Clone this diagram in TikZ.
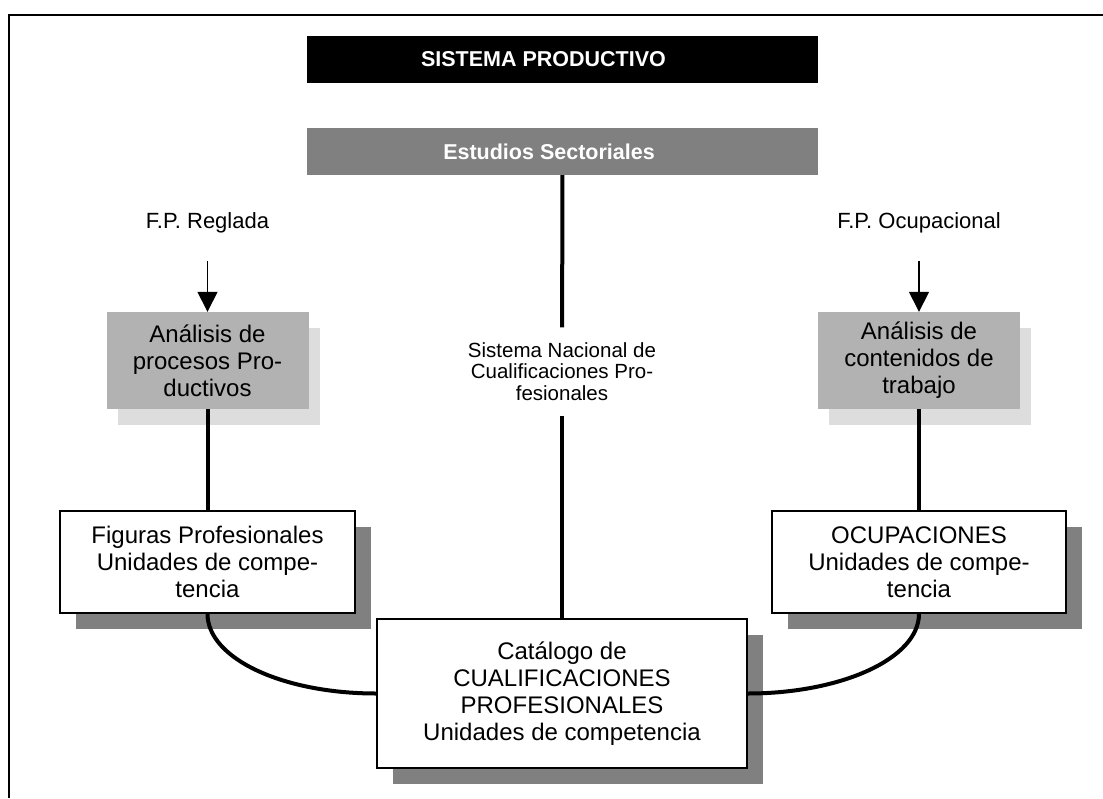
\documentclass[tikz,border=0pt]{standalone}
\usepackage{fontspec}
\setmainfont{Liberation Sans}
\usetikzlibrary{arrows.meta,shadows}
\definecolor{headgray}{HTML}{808080}
\definecolor{procgray}{HTML}{B2B2B2}
\definecolor{lightshade}{HTML}{DDDDDD}
\tikzset{
	headbox/.style={minimum width=511pt, minimum height=47pt, inner sep=0pt, text=white, font=\fontsize{21.5}{24}\selectfont\bfseries},
	analbox/.style={fill=procgray, minimum width=202pt, minimum height=97pt, inner sep=0pt, align=center, font=\fontsize{24}{27}\selectfont, drop shadow={shadow xshift=11pt, shadow yshift=-16pt, fill=lightshade, opacity=1}},
	unitbox/.style={draw, line width=1.5pt, fill=white, inner sep=0pt, align=center, font=\fontsize{24}{27}\selectfont, drop shadow={shadow xshift=16pt, shadow yshift=-16pt, fill=headgray, opacity=1}},
	fptext/.style={anchor=base, font=\fontsize{22}{26}\selectfont},
	thickline/.style={line width=4pt},
	arr/.style={line width=1.5pt, -{Triangle[length=20pt,width=20pt]}}
}
\begin{document}
\begin{tikzpicture}[x=1pt,y=-1pt]
			\useasboundingbox (0,0) rectangle (1103,798);
			\draw[line width=2pt] (9,798) -- (9,15) -- (1103,15);
			\node[headbox, fill=black] (prod) at (562.5,59.5) {SISTEMA PRODUCTIVO\kern38pt};
			\node[headbox, fill=headgray] (estudios) at (562.5,151.5) {Estudios Sectoriales\kern27pt};
			\node[fptext] (reglada) at (207.5,228) {F.P. Reglada};
			\node[fptext] (ocupacional) at (919,228) {F.P. Ocupacional};
			\coordinate (reglada-a) at (207.5,261);
			\coordinate (ocupacional-a) at (919,261);
			\node[analbox] (procesos) at (207.5,360.5) {Análisis de\\procesos Pro-\\ductivos};
			\node[analbox] (contenidos) at (919,360.5) {Análisis de\\contenidos de\\trabajo};
			\node[align=center, inner xsep=0pt, inner ysep=15pt, font=\fontsize{20.5}{21.5}\selectfont] (snc) at (562,371.5) {Sistema Nacional de\\Cualificaciones Pro-\\fesionales};
			\node[unitbox, minimum width=295pt, minimum height=102pt] (figuras) at (207.5,562) {Figuras Profesionales\\Unidades de compe-\\tencia};
			\node[unitbox, minimum width=294pt, minimum height=102pt] (ocupaciones) at (919,562) {OCUPACIONES\\Unidades de compe-\\tencia};
			\node[unitbox, minimum width=370pt, minimum height=149pt] (catalogo) at (562,693.5) {Catálogo de\\CUALIFICACIONES\\PROFESIONALES\\Unidades de competencia};
			\draw[arr] (reglada-a) -- (procesos);
			\draw[arr] (ocupacional-a) -- (contenidos);
			\draw[thickline] (estudios) -- (snc);
			\draw[thickline] (snc) -- (catalogo);
			\draw[thickline] (procesos) -- (figuras);
			\draw[thickline] (contenidos) -- (ocupaciones);
			\draw[thickline] (figuras.south) .. controls +(0,45) and +(-93,0) .. (catalogo.west);
			\draw[thickline] (ocupaciones.south) .. controls +(0,45) and +(93,0) .. (catalogo.east);
		\end{tikzpicture}
\end{document}
